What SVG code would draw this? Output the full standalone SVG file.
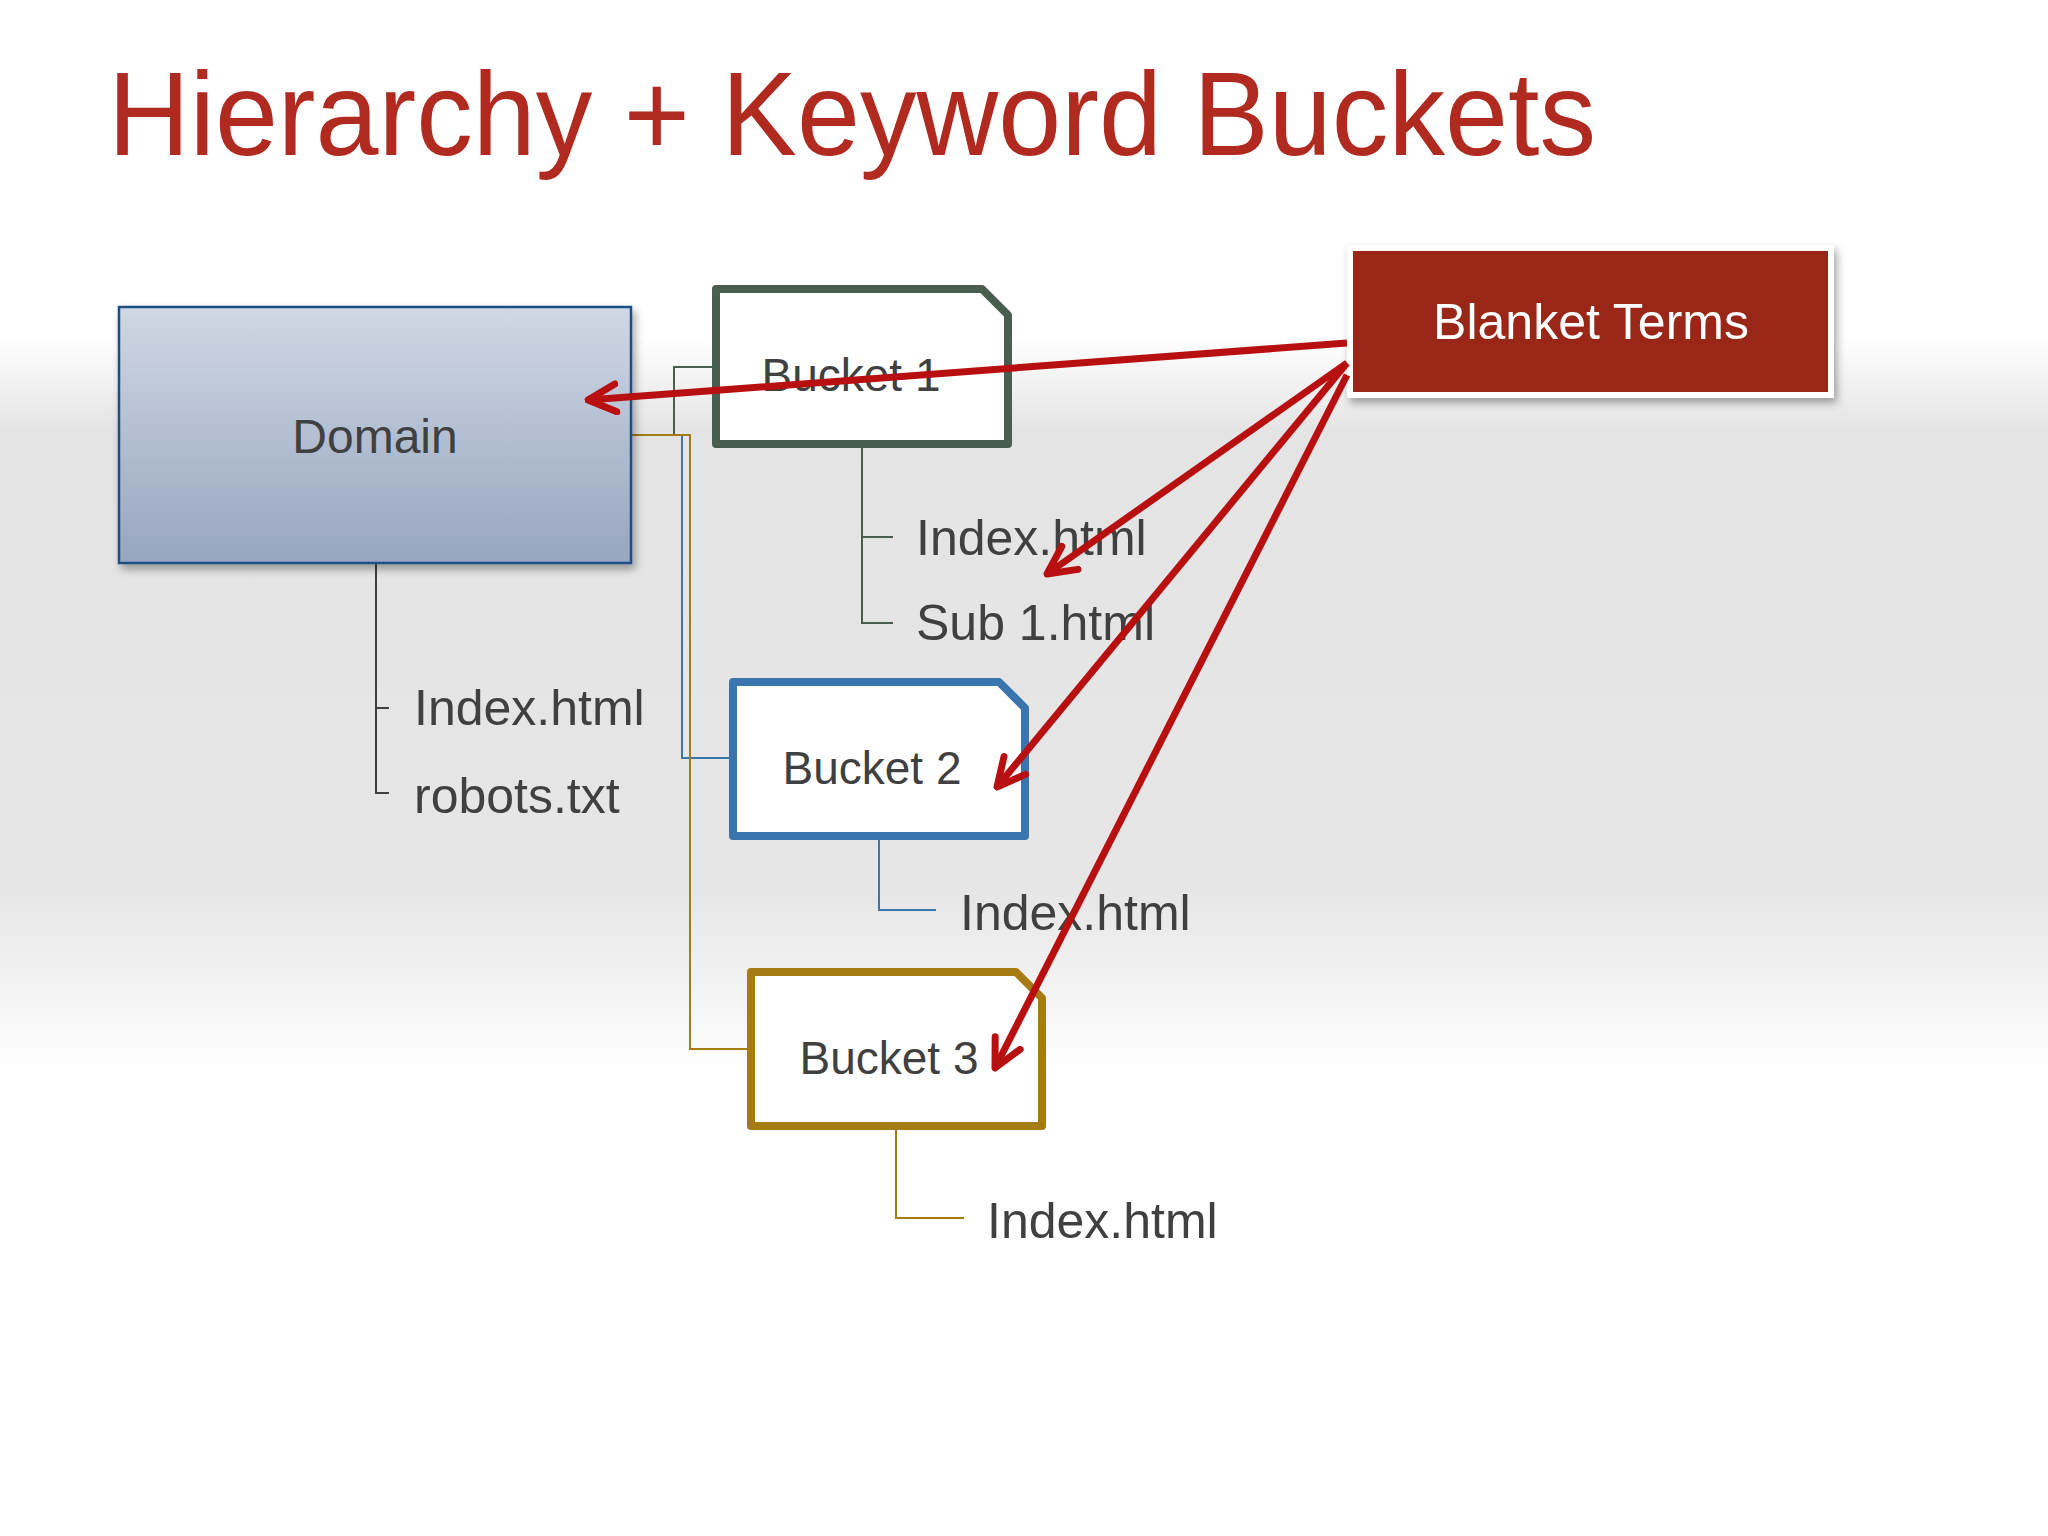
<svg xmlns="http://www.w3.org/2000/svg" width="2048" height="1536" viewBox="0 0 2048 1536">
<defs>
<linearGradient id="bg" x1="0" y1="0" x2="0" y2="1">
<stop offset="0" stop-color="#ffffff"/>
<stop offset="0.22" stop-color="#ffffff"/>
<stop offset="0.28" stop-color="#e4e4e4"/>
<stop offset="0.58" stop-color="#e6e6e6"/>
<stop offset="0.70" stop-color="#ffffff"/>
<stop offset="1" stop-color="#ffffff"/>
</linearGradient>
<linearGradient id="dom" x1="0" y1="0" x2="0" y2="1">
<stop offset="0" stop-color="#cfd8e4"/>
<stop offset="1" stop-color="#97a5bf"/>
</linearGradient>
<filter id="sh" x="-10%" y="-10%" width="130%" height="140%">
<feDropShadow dx="3" dy="5" stdDeviation="4" flood-color="#000" flood-opacity="0.35"/>
</filter>
<marker id="ah" viewBox="0 0 10 10" refX="9" refY="5" markerWidth="5" markerHeight="5" orient="auto" markerUnits="strokeWidth">
<polyline points="1,1 9,5 1,9" fill="none" stroke="#b81010" stroke-width="2" stroke-linecap="round" stroke-linejoin="round"/>
</marker>
</defs>
<style>
text{font-family:"Liberation Sans",Arial,sans-serif;fill:#404040}
.lbl{font-size:50px}
.bk{font-size:46px;text-anchor:middle}
.arr{stroke:#b81010;stroke-width:7;fill:none;marker-end:url(#ah)}
.t{fill:none;stroke-width:2}
</style>
<rect width="2048" height="1536" fill="url(#bg)"/>
<text x="108" y="155" textLength="1488" lengthAdjust="spacingAndGlyphs" style="font-size:118px;fill:#b02a1f">Hierarchy + Keyword Buckets</text>

<g id="connectors">
<polyline class="t" stroke="#4a5e50" points="631,435 674,435 674,367 716,367"/>
<polyline class="t" stroke="#3b75ad" points="631,435 682,435 682,758 733,758"/>
<polyline class="t" stroke="#a67c12" points="631,435 690,435 690,1049 751,1049"/>
<polyline class="t" stroke="#404040" points="376,563 376,793 389,793"/>
<line class="t" stroke="#404040" x1="376" y1="708" x2="389" y2="708"/>
<polyline class="t" stroke="#4a5e50" points="862,444 862,623 893,623"/>
<line class="t" stroke="#4a5e50" x1="862" y1="537" x2="893" y2="537"/>
<polyline class="t" stroke="#3b75ad" points="879,836 879,910 936,910"/>
<polyline class="t" stroke="#a67c12" points="896,1126 896,1218 964,1218"/>
</g>

<g id="domain">
<rect x="119" y="307" width="512" height="256" fill="url(#dom)" stroke="#1f4f86" stroke-width="2.5" filter="url(#sh)"/>
<text x="375" y="453" class="bk" style="font-size:48px">Domain</text>
<text x="414" y="725" class="lbl">Index.html</text>
<text x="414" y="813" class="lbl">robots.txt</text>
</g>

<g id="bucket1">
<path d="M716,289 H982 L1008,315 V444 H716 Z" fill="#fff" stroke="#4a5e50" stroke-width="8" stroke-linejoin="round"/>
<text x="851" y="391" class="bk">Bucket 1</text>
<text x="916" y="555" class="lbl">Index.html</text>
<text x="916" y="640" class="lbl">Sub 1.html</text>
</g>

<g id="bucket2">
<path d="M733,682 H999 L1025,708 V836 H733 Z" fill="#fff" stroke="#3b75ad" stroke-width="8" stroke-linejoin="round"/>
<text x="872" y="784" class="bk">Bucket 2</text>
<text x="960" y="930" class="lbl">Index.html</text>
</g>

<g id="bucket3">
<path d="M751,972 H1016 L1042,998 V1126 H751 Z" fill="#fff" stroke="#a67c12" stroke-width="8" stroke-linejoin="round"/>
<text x="889" y="1074" class="bk">Bucket 3</text>
<text x="987" y="1238" class="lbl">Index.html</text>
</g>

<g id="blanket">
<rect x="1350" y="248" width="481" height="147" fill="#992518" stroke="#fff" stroke-width="6" filter="url(#sh)"/>
<text x="1591" y="339" style="font-size:50px;fill:#fff;text-anchor:middle">Blanket Terms</text>
</g>

<g id="arrows">
<line class="arr" x1="1347" y1="343" x2="588" y2="400"/>
<line class="arr" x1="1347" y1="363" x2="1047" y2="574"/>
<line class="arr" x1="1347" y1="363" x2="997" y2="787"/>
<line class="arr" x1="1347" y1="375" x2="995" y2="1068"/>
</g>
</svg>
